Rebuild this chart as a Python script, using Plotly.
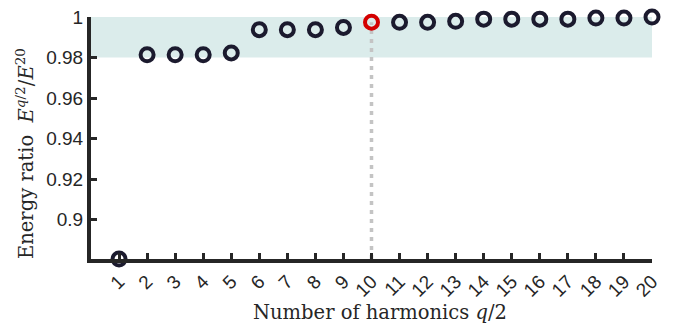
import plotly.graph_objects as go

harmonics = list(range(1, 21))
energy_ratio = [0.8805, 0.9814, 0.9814, 0.9814, 0.9823, 0.9938, 0.9938, 0.9938, 0.9949, 0.9975,
                0.9974, 0.9974, 0.9979, 0.999, 0.999, 0.999, 0.999, 0.9995, 0.9995, 1.0]
selected = 10
band = [0.98, 1.0]
y_ticks = [0.9, 0.92, 0.94, 0.96, 0.98, 1.0]
y_tick_text = ["0.9", "0.92", "0.94", "0.96", "0.98", "1"]
x_ticks = harmonics
x_tick_text = [str(h) for h in harmonics]
x_title = "Number of harmonics <i>q</i>/2"
y_title = "Energy ratio  <i>E</i><sup><i>q</i>/2</sup>/<i>E</i><sup>20</sup>"

y_min = 0.8805
y_max = 1.00005

fig = go.Figure()

fig.add_shape(type="rect", x0=0, x1=20, y0=band[0], y1=band[1], xref="x", yref="y",
              fillcolor="#dbeceb", line_width=0, layer="below")

sel_val = energy_ratio[harmonics.index(selected)]
fig.add_trace(go.Scatter(x=[selected, selected], y=[y_min, sel_val], mode="lines",
                         line=dict(color="#c4c4c4", width=3.5, dash="4px,5px"),
                         showlegend=False, hoverinfo="skip", cliponaxis=False))

xs = [h for h in harmonics if h != selected]
ys = [v for h, v in zip(harmonics, energy_ratio) if h != selected]
fig.add_trace(go.Scatter(x=xs, y=ys, mode="markers",
                         marker=dict(symbol="circle-open", size=13, color="#1b1a2e",
                                     line=dict(width=4, color="#1b1a2e")),
                         showlegend=False, cliponaxis=False))
fig.add_trace(go.Scatter(x=[selected], y=[sel_val], mode="markers",
                         marker=dict(symbol="circle-open", size=13, color="#d40000",
                                     line=dict(width=4, color="#d40000")),
                         showlegend=False, cliponaxis=False))

axis_font = dict(family="Liberation Sans, Arial, sans-serif", size=19, color="#262626")
title_font = dict(family="DejaVu Serif, Liberation Serif, serif", size=19.5, color="#262626")

fig.add_annotation(text=x_title, xref="paper", yref="paper", x=0.515, y=0,
                   xanchor="center", yanchor="middle", yshift=-53, showarrow=False,
                   font=title_font)
fig.add_annotation(text=y_title, xref="paper", yref="paper", x=0, y=0.434,
                   xanchor="center", yanchor="middle", xshift=-66, textangle=-90,
                   showarrow=False, font=title_font)

# page body has an 8px margin; compensate so the plot area lands where the reference has it
fig.update_layout(
    width=686, height=319,
    margin=dict(l=83, r=42, t=9, b=68),
    paper_bgcolor="white", plot_bgcolor="white",
    xaxis=dict(range=[0, 20], tickvals=x_ticks, ticktext=x_tick_text, tickangle=-45,
               automargin=False, ticklabeloverflow="allow",
               showgrid=False, zeroline=False, showline=True, linewidth=4, linecolor="#262626",
               ticks="inside", ticklen=6, tickwidth=3, tickcolor="#262626",
               tickfont=axis_font),
    yaxis=dict(range=[y_min, y_max], tickvals=y_ticks, ticktext=y_tick_text,
               automargin=False, ticklabeloverflow="allow",
               showgrid=False, zeroline=False, showline=True, linewidth=4, linecolor="#262626",
               ticks="inside", ticklen=6, tickwidth=3, tickcolor="#262626",
               tickfont=axis_font),
)

fig.write_html("out.html")
